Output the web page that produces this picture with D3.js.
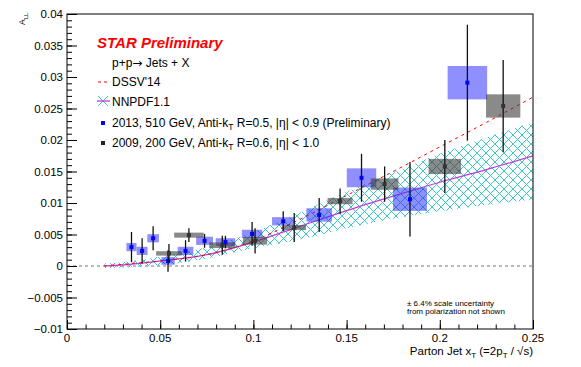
<!DOCTYPE html>
<html>
<head>
<meta charset="utf-8">
<script src="https://cdn.jsdelivr.net/npm/d3@7"></script>
<style>
  body { margin: 0; background: #fff; }
  svg { font-family: "Liberation Sans", Arial, sans-serif; }
</style>
</head>
<body>
<div id="chart"></div>
<script>
// 2013, 510 GeV (blue)
const x13 = [0.0346, 0.0403, 0.0462, 0.0542, 0.0636, 0.0738, 0.0850, 0.0993, 0.1160, 0.1353, 0.1580, 0.1840, 0.2148];
const a13 = [0.0030, 0.0024, 0.0044, 0.0008, 0.0024, 0.0040, 0.0038, 0.0051, 0.0071, 0.0081, 0.0140, 0.0106, 0.0291];
const stat13 = [0.0024, 0.0020, 0.0019, 0.0017, 0.0017, 0.0011, 0.0010, 0.0019, 0.0016, 0.0027, 0.0038, 0.0059, 0.0092];
const sysX13 = [0.0027, 0.0029, 0.0031, 0.0036, 0.0042, 0.0045, 0.0052, 0.0055, 0.0060, 0.0069, 0.0079, 0.0091, 0.0106];
const sysY13 = [0.00065, 0.00065, 0.00065, 0.0006, 0.00065, 0.00065, 0.0006, 0.00065, 0.00065, 0.00106, 0.0015, 0.00185, 0.00265];

// 2009, 200 GeV (gray)
const x09 = [0.0547, 0.0654, 0.0833, 0.1009, 0.1219, 0.1465, 0.1704, 0.2027, 0.2340];
const a09 = [0.0020, 0.0049, 0.0033, 0.0040, 0.0061, 0.0103, 0.0130, 0.0158, 0.0254];
const stat09 = [0.0015, 0.0011, 0.0015, 0.0020, 0.0023, 0.0020, 0.0028, 0.0042, 0.0073];
const sysX09 = [0.0069, 0.0079, 0.0070, 0.0065, 0.0063, 0.0067, 0.0074, 0.0087, 0.0092];
const sysY09 = [0.00035, 0.0004, 0.00045, 0.0006, 0.0004, 0.0005, 0.0009, 0.0012, 0.00185];

// theory curves
const curveX = [0.02, 0.035, 0.05, 0.075, 0.1, 0.125, 0.15, 0.175, 0.2, 0.225, 0.25];
const dssv   = [0.0, 0.0004, 0.0008, 0.0018, 0.0040, 0.0074, 0.0112, 0.0150, 0.0189, 0.0228, 0.0268];
const nnpdf  = [0.0, 0.0003, 0.0008, 0.0018, 0.0038, 0.0063, 0.0088, 0.0111, 0.0133, 0.0153, 0.0175];
const nnLo   = [-0.0003, -0.0002, 0.0001, 0.0012, 0.0028, 0.0042, 0.0060, 0.0075, 0.0087, 0.0097, 0.0105];
const nnHi   = [0.0004, 0.0008, 0.0015, 0.0030, 0.0054, 0.0085, 0.0118, 0.0148, 0.0178, 0.0204, 0.0228];

const xTicks = [0, 0.05, 0.1, 0.15, 0.2, 0.25];
const xTickLabels = ["0", "0.05", "0.1", "0.15", "0.2", "0.25"];
const yTicks = [-0.01, -0.005, 0, 0.005, 0.01, 0.015, 0.02, 0.025, 0.03, 0.035, 0.04];
const yTickLabels = ["\u22120.01", "\u22120.005", "0", "0.005", "0.01", "0.015", "0.02", "0.025", "0.03", "0.035", "0.04"];

const width = 581, height = 367;
const mLeft = 67, mRight = 533, mTop = 14, mBottom = 329;

const svg = d3.select("#chart").append("svg")
    .attr("width", width)
    .attr("height", height);

const x = d3.scaleLinear().domain([0, 0.25]).range([mLeft, mRight]);
const y = d3.scaleLinear().domain([-0.01, 0.04]).range([mBottom, mTop]);

// hatch pattern for NNPDF band
const defs = svg.append("defs");
const pat = defs.append("pattern")
    .attr("id", "hatch")
    .attr("patternUnits", "userSpaceOnUse")
    .attr("width", 9).attr("height", 9);
pat.append("path").attr("d", "M0,0 L9,9 M9,0 L0,9 M-1,8 L1,10 M8,-1 L10,1 M-1,1 L1,-1 M8,10 L10,8")
    .attr("stroke", "#3cc8c8").attr("stroke-width", 1).attr("fill", "none");
defs.append("clipPath").attr("id", "frame")
    .append("rect").attr("x", mLeft).attr("y", mTop).attr("width", mRight - mLeft).attr("height", mBottom - mTop);

const plot = svg.append("g").attr("clip-path", "url(#frame)");

// zero line
plot.append("line")
    .attr("x1", x(0)).attr("x2", x(0.25))
    .attr("y1", y(0)).attr("y2", y(0))
    .attr("stroke", "#777").attr("stroke-dasharray", "3,3");

// NNPDF band
const band = d3.area()
    .x((d, i) => x(curveX[i]))
    .y0((d, i) => y(nnLo[i]))
    .y1((d, i) => y(nnHi[i]))
    .curve(d3.curveMonotoneX);
plot.append("path").datum(curveX)
    .attr("d", band)
    .attr("fill", "url(#hatch)");

const line = arr => d3.line()
    .x((d, i) => x(curveX[i]))
    .y((d, i) => y(arr[i]))
    .curve(d3.curveMonotoneX)(curveX);

plot.append("path").attr("d", line(nnpdf))
    .attr("fill", "none").attr("stroke", "#c03cdc").attr("stroke-width", 1.2);
plot.append("path").attr("d", line(dssv))
    .attr("fill", "none").attr("stroke", "#ff0000").attr("stroke-width", 1)
    .attr("stroke-dasharray", "3,4");

// systematic boxes
function boxes(xs, as, sx, sy, fill) {
    plot.selectAll(null).data(xs).join("rect")
        .attr("x", (d, i) => x(d - sx[i]))
        .attr("width", (d, i) => x(d + sx[i]) - x(d - sx[i]))
        .attr("y", (d, i) => y(as[i] + sy[i]))
        .attr("height", (d, i) => y(as[i] - sy[i]) - y(as[i] + sy[i]))
        .attr("fill", fill);
}
boxes(x13, a13, sysX13, sysY13, "rgba(40,40,255,0.52)");
boxes(x09, a09, sysX09, sysY09, "rgba(60,60,60,0.6)");

// stat error bars + points
function points(xs, as, st, col) {
    plot.selectAll(null).data(xs).join("line")
        .attr("x1", d => x(d)).attr("x2", d => x(d))
        .attr("y1", (d, i) => y(as[i] + st[i]))
        .attr("y2", (d, i) => y(as[i] - st[i]))
        .attr("stroke", "#111").attr("stroke-width", 1.3);
    plot.selectAll(null).data(xs).join("rect")
        .attr("x", d => x(d) - 2).attr("y", (d, i) => y(as[i]) - 2)
        .attr("width", 4).attr("height", 4)
        .attr("fill", col);
}
points(x13, a13, stat13, "#0000ff");
points(x09, a09, stat09, "#333");

// frame
svg.append("rect")
    .attr("x", mLeft).attr("y", mTop)
    .attr("width", mRight - mLeft).attr("height", mBottom - mTop)
    .attr("fill", "none").attr("stroke", "#000").attr("stroke-width", 1);

// axes, ticks pointing inward
const yMinor = d3.range(-0.01, 0.04001, 0.001);
svg.append("g").attr("transform", `translate(${mLeft},0)`)
    .call(d3.axisRight(y).tickValues(yMinor).tickSize(5).tickFormat(""))
    .call(g => g.select(".domain").remove());
svg.append("g").attr("transform", `translate(${mLeft},0)`)
    .call(d3.axisRight(y).tickValues(yTicks).tickSize(10).tickFormat(""))
    .call(g => g.select(".domain").remove());
svg.append("g").selectAll("text").data(yTicks).join("text")
    .attr("x", mLeft - 4).attr("y", d => y(d) + 4)
    .attr("text-anchor", "end").attr("font-size", 11.5)
    .text((d, i) => yTickLabels[i]);

const xMinor = d3.range(0, 0.2501, 0.01);
svg.append("g").attr("transform", `translate(0,${mBottom})`)
    .call(d3.axisTop(x).tickValues(xMinor).tickSize(4.5).tickFormat(""))
    .call(g => g.select(".domain").remove());
svg.append("g").attr("transform", `translate(0,${mBottom})`)
    .call(d3.axisTop(x).tickValues(xTicks).tickSize(9).tickFormat(""))
    .call(g => g.select(".domain").remove());
svg.append("g").selectAll("text").data(xTicks).join("text")
    .attr("x", d => x(d)).attr("y", mBottom + 13)
    .attr("text-anchor", "middle").attr("font-size", 11.5)
    .text((d, i) => xTickLabels[i]);

// axis titles
const yt = svg.append("text")
    .attr("transform", "translate(25,25) rotate(-90)")
    .attr("font-size", 8.5).attr("text-anchor", "start");
yt.append("tspan").text("A");
yt.append("tspan").attr("dy", 2.5).attr("font-size", 6).text("LL");

const xt = svg.append("text")
    .attr("x", mRight).attr("y", 355)
    .attr("text-anchor", "end").attr("font-size", 11.5);
xt.append("tspan").text("Parton Jet x");
xt.append("tspan").attr("dy", 3).attr("font-size", 8).text("T");
xt.append("tspan").attr("dy", -3).text(" (=2p");
xt.append("tspan").attr("dy", 3).attr("font-size", 8).text("T");
xt.append("tspan").attr("dy", -3).text(" / \u221As)");

// scale uncertainty note
svg.append("text").attr("x", 407).attr("y", 306).attr("font-size", 8)
    .text("\u00b1 6.4% scale uncertainty");
svg.append("text").attr("x", 407).attr("y", 314).attr("font-size", 8)
    .text("from polarization not shown");

// legend
svg.append("text").attr("x", 97).attr("y", 48)
    .attr("font-size", 15).attr("font-weight", "bold").attr("font-style", "italic")
    .attr("fill", "#ff0000").text("STAR Preliminary");
const pp = svg.append("text").attr("x", 112).attr("y", 67).attr("font-size", 12);
pp.append("tspan").text("p+p");
pp.append("tspan").attr("font-family", "DejaVu Sans").text("\u2192");
pp.append("tspan").text(" Jets + X");

svg.append("line").attr("x1", 98).attr("x2", 109).attr("y1", 82).attr("y2", 82)
    .attr("stroke", "#ff0000").attr("stroke-dasharray", "3,3");
svg.append("text").attr("x", 112).attr("y", 86).attr("font-size", 12).text("DSSV'14");

svg.append("path").attr("d", "M98,96 L108,106 M108,96 L98,106")
    .attr("stroke", "#3cc8c8").attr("stroke-width", 1);
svg.append("line").attr("x1", 97).attr("x2", 110).attr("y1", 101).attr("y2", 101)
    .attr("stroke", "#c03cdc").attr("stroke-width", 1.3);
svg.append("text").attr("x", 112).attr("y", 106).attr("font-size", 12).text("NNPDF1.1");

function legendEntry(yy, col, parts) {
    svg.append("rect").attr("x", 101).attr("y", yy - 2).attr("width", 4).attr("height", 4).attr("fill", col);
    const t = svg.append("text").attr("x", 112).attr("y", yy + 4).attr("font-size", 12);
    t.append("tspan").text(parts[0]);
    t.append("tspan").attr("dy", 3).attr("font-size", 8.5).text("T");
    t.append("tspan").attr("dy", -3).text(parts[1]);
}
legendEntry(123, "#0000ff", ["2013, 510 GeV, Anti-k", " R=0.5, |\u03b7| < 0.9 (Preliminary)"]);
legendEntry(143, "#222", ["2009, 200 GeV, Anti-k", " R=0.6, |\u03b7| < 1.0"]);
</script>
</body>
</html>
